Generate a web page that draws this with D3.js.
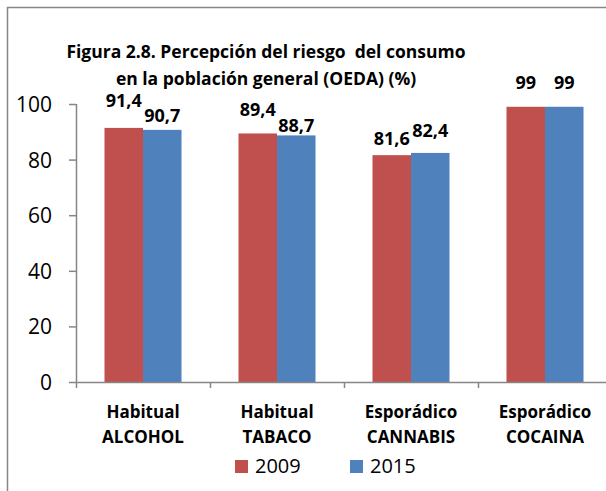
<!DOCTYPE html>
<html>
<head>
<meta charset="utf-8">
<script src="https://cdn.jsdelivr.net/npm/d3@7"></script>
<style>
  body { margin: 0; background: #fff; }
  svg text { font-family: "Open Sans", "Noto Sans", sans-serif; fill: #000; white-space: pre; }
</style>
</head>
<body>
<div id="chart"></div>
<script>
// data
var categories = [["Habitual", "ALCOHOL"], ["Habitual", "TABACO"], ["Esporádico", "CANNABIS"], ["Esporádico", "COCAINA"]];
var seriesNames = ["2009", "2015"];
var values2009 = [91.4, 89.4, 81.6, 99];
var values2015 = [90.7, 88.7, 82.4, 99];
var labels2009 = ["91,4", "89,4", "81,6", "99"];
var labels2015 = ["90,7", "88,7", "82,4", "99"];
var yTicks = [0, 20, 40, 60, 80, 100];
var titleLines = ["Figura 2.8. Percepción del riesgo  del consumo", "en la población general (OEDA) (%)"];

// excel moved some labels up to avoid overlaps
var lift2009 = [21, 17, 10, 18];
var lift2015 = [8, 3, 16, 18];

var W = 606, H = 491;
var colors = { "2009": "#C0504D", "2015": "#4F81BD" };
var axisCol = "#868686";

var svg = d3.select("#chart")
  .append("svg")
    .attr("width", W)
    .attr("height", H);

// chart border (cropped on right and bottom)
svg.append("path")
  .attr("d", "M7.5," + H + "V7.5H" + W)
  .attr("fill", "none")
  .attr("stroke", axisCol)
  .attr("stroke-width", 1.5);

var catKeys = categories.map(function(c) { return c.join(" "); });

var x0 = d3.scaleBand()
  .domain(catKeys)
  .range([76, 612])
  .padding(0);

var x1 = d3.scaleBand()
  .domain(seriesNames)
  .range([0, x0.bandwidth()])
  .paddingInner(0)
  .paddingOuter(0.74);

var y = d3.scaleLinear()
  .domain([0, 100])
  .range([382, 104]);

// title
svg.append("g").selectAll("text")
  .data(titleLines)
  .enter()
  .append("text")
    .attr("x", 266)
    .attr("y", function(d, i) { return 58 + i * 27; })
    .attr("text-anchor", "middle")
    .style("font-size", "17.5px")
    .style("font-weight", "bold")
    .text(function(d) { return d; });

// y axis
var yAxis = svg.append("g")
  .attr("transform", "translate(76,0)")
  .call(d3.axisLeft(y).tickValues(yTicks).tickSize(7).tickSizeOuter(0).tickPadding(17));
yAxis.select(".domain").attr("stroke", axisCol).attr("stroke-width", 1.5)
  .attr("d", "M0.5," + y(100) + "V" + (y(0) + 6));
yAxis.selectAll(".tick line").attr("stroke", axisCol).attr("stroke-width", 1.5);
yAxis.selectAll(".tick text")
  .style("font-size", "21px")
  .style("font-family", "'Open Sans', sans-serif")
  .attr("fill", "#000")
  .attr("dy", "0.36em");

// bars
var rows = catKeys.map(function(k, i) {
  return [
    { cat: k, s: "2009", v: values2009[i], lab: labels2009[i], lift: lift2009[i] },
    { cat: k, s: "2015", v: values2015[i], lab: labels2015[i], lift: lift2015[i] }
  ];
});

var groups = svg.append("g").selectAll("g")
  .data(rows)
  .enter()
  .append("g")
    .attr("transform", function(d) { return "translate(" + x0(d[0].cat) + ",0)"; });

groups.selectAll("rect")
  .data(function(d) { return d; })
  .enter()
  .append("rect")
    .attr("x", function(d) { return x1(d.s); })
    .attr("y", function(d) { return y(d.v); })
    .attr("width", x1.bandwidth())
    .attr("height", function(d) { return y(0) - y(d.v); })
    .attr("fill", function(d) { return colors[d.s]; });

groups.selectAll("text")
  .data(function(d) { return d; })
  .enter()
  .append("text")
    .attr("x", function(d) { return x1(d.s) + x1.bandwidth() / 2; })
    .attr("y", function(d) { return y(d.v) - d.lift; })
    .attr("text-anchor", "middle")
    .style("font-size", "18px")
    .style("font-weight", "bold")
    .text(function(d) { return d.lab; });

// x axis line and boundary ticks
svg.append("line")
  .attr("x1", 76).attr("x2", W)
  .attr("y1", y(0) + 0.5).attr("y2", y(0) + 0.5)
  .attr("stroke", axisCol).attr("stroke-width", 1.5);

svg.append("g").selectAll("line")
  .data(catKeys.slice(1))
  .enter()
  .append("line")
    .attr("x1", function(d) { return x0(d) + 0.5; })
    .attr("x2", function(d) { return x0(d) + 0.5; })
    .attr("y1", y(0))
    .attr("y2", y(0) + 6)
    .attr("stroke", axisCol).attr("stroke-width", 1.5);

// category labels
var catLab = svg.append("g").selectAll("text")
  .data(categories)
  .enter()
  .append("text")
    .attr("x", function(d) { return x0(d.join(" ")) + x0.bandwidth() / 2; })
    .attr("text-anchor", "middle")
    .style("font-size", "17px")
    .style("font-weight", "bold");

catLab.selectAll("tspan")
  .data(function(d) { return d; })
  .enter()
  .append("tspan")
    .attr("x", function() { return d3.select(this.parentNode).attr("x"); })
    .attr("y", function(d, i) { return 418 + i * 25; })
    .text(function(d) { return d; });

// legend
var legend = svg.append("g").selectAll("g")
  .data(seriesNames)
  .enter()
  .append("g")
    .attr("transform", function(d, i) { return "translate(" + (235 + i * 115) + ",460)"; });

legend.append("rect")
  .attr("width", 13)
  .attr("height", 13)
  .attr("fill", function(d) { return colors[d]; });

legend.append("text")
  .attr("x", 20)
  .attr("y", 13)
  .style("font-size", "20px")
  .text(function(d) { return d; });
</script>
</body>
</html>
